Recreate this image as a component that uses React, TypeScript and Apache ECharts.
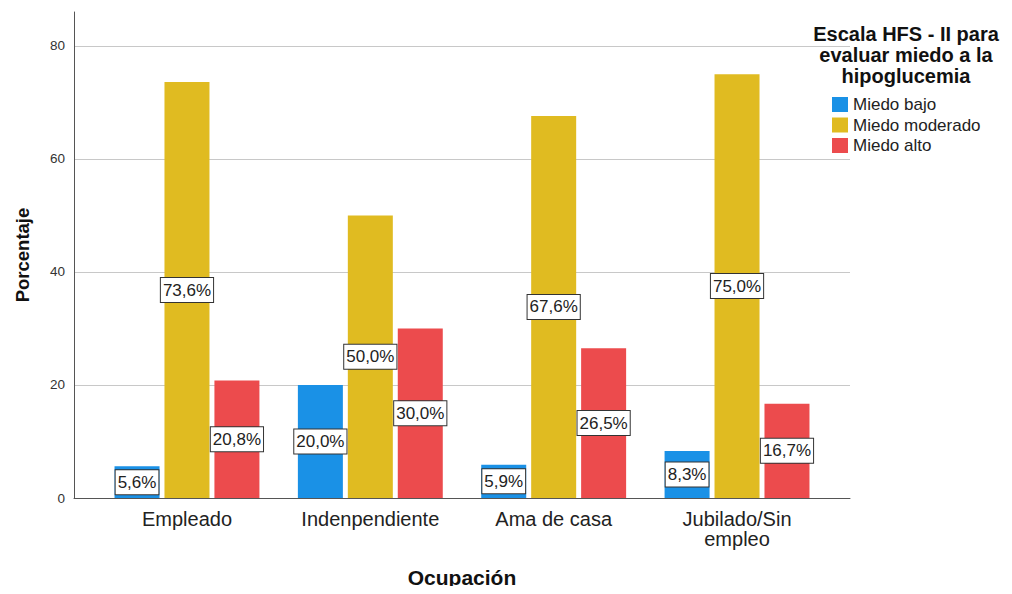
import React, { useEffect, useRef } from "react";
import * as echarts from "echarts";

const categories = ["Empleado", "Indenpendiente", "Ama de casa", "Jubilado/Sin\nempleo"];
const seriesNames = ["Miedo bajo", "Miedo moderado", "Miedo alto"];
const miedoBajo = [5.6, 20.0, 5.9, 8.3];
const miedoModerado = [73.6, 50.0, 67.6, 75.0];
const miedoAlto = [20.8, 30.0, 26.5, 16.7];
const colors = ["#1a91e6", "#e0bb21", "#ec4b4d"];
const yMax = 86;

const FONT = 'Arial, "Liberation Sans", sans-serif';

export default function App() {
  const ref = useRef<HTMLDivElement>(null);
  useEffect(() => {
    if (!ref.current) return;
    const chart = echarts.init(ref.current, null, { renderer: "svg" });
    const values = [miedoBajo, miedoModerado, miedoAlto];
    const fmt = (v: number) => v.toFixed(1).replace(".", ",") + "%";
    chart.setOption({
      animation: false,
      textStyle: { fontFamily: FONT },
      title: {
        text: "Escala HFS - II para\nevaluar miedo a la\nhipoglucemia",
        left: 906,
        top: 23,
        padding: 0,
        textAlign: "center",
        textStyle: { fontFamily: FONT, fontSize: 20, fontWeight: "bold", color: "#111", lineHeight: 21 },
      },
      legend: {
        orient: "vertical",
        left: 832,
        top: 96,
        padding: 0,
        itemWidth: 16,
        itemHeight: 15,
        itemGap: 3.5,
        icon: "rect",
        textStyle: { fontFamily: FONT, fontSize: 17, color: "#222" },
        data: seriesNames,
      },
      grid: [
        { left: 95.3, right: 183.3, top: 12, bottom: 96, outerBoundsMode: "none" },
        { left: 74, right: 162, top: 12, bottom: 96, outerBoundsMode: "none" },
      ],
      xAxis: [
        {
          type: "category",
          gridIndex: 0,
          data: categories,
          axisLine: { show: false },
          axisTick: { show: false },
          axisLabel: { interval: 0, fontFamily: FONT, fontSize: 20, color: "#222", margin: 11, lineHeight: 20 },
        },
        {
          type: "value",
          gridIndex: 1,
          min: 0,
          max: 1,
          axisLine: { show: true, lineStyle: { color: "#555", width: 1 } },
          axisTick: { show: false },
          axisLabel: { show: false },
          splitLine: { show: false },
          name: "Ocupación",
          nameLocation: "middle",
          nameGap: 69,
          nameTextStyle: { fontFamily: FONT, fontSize: 21, fontWeight: "bold", color: "#111" },
        },
      ],
      yAxis: [
        {
          type: "value",
          gridIndex: 0,
          min: 0,
          max: yMax,
          show: false,
          splitLine: { show: false },
        },
        {
          type: "value",
          gridIndex: 1,
          min: 0,
          max: yMax,
          interval: 20,
          axisLine: { show: true, lineStyle: { color: "#555", width: 1 } },
          axisTick: { show: false },
          axisLabel: { fontFamily: FONT, fontSize: 13.5, color: "#333", margin: 9, showMaxLabel: false },
          splitLine: { show: true, showMaxLine: false, showMinLine: false, lineStyle: { color: "#c8c8c8", width: 1 } },
          name: "Porcentaje",
          nameLocation: "middle",
          nameGap: 42,
          nameTextStyle: { fontFamily: FONT, fontSize: 18.5, fontWeight: "bold", color: "#111" },
        },
      ],
      series: seriesNames.map((name, i) => ({
        name,
        type: "bar",
        xAxisIndex: 0,
        yAxisIndex: 0,
        data: values[i],
        barWidth: 45,
        barGap: "11%",
        itemStyle: { color: colors[i] },
        label: {
          show: true,
          position: "inside",
          formatter: (p: any) => fmt(p.value),
          fontFamily: FONT,
          fontSize: 17,
          color: "#222",
          backgroundColor: "#fff",
          borderColor: "#333",
          borderWidth: 1,
          padding: [4, 2, 3, 2],
        },
      })),
    });
    return () => chart.dispose();
  }, []);
  return <div ref={ref} style={{ width: 1012, height: 594, margin: -8 }} />;
}
